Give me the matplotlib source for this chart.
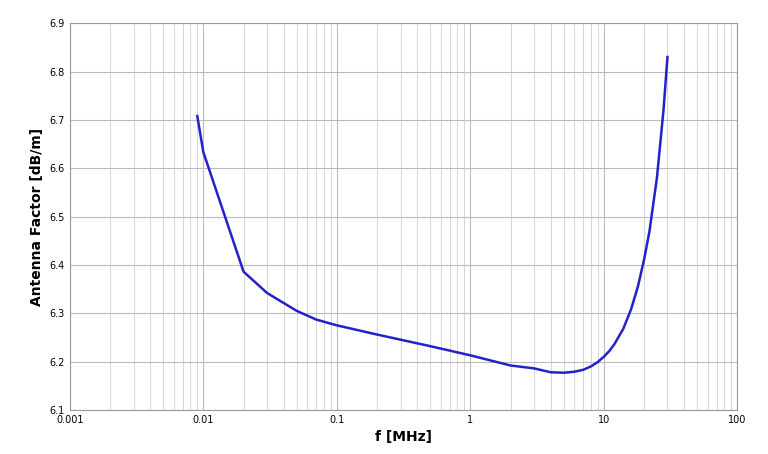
import numpy as np
from matplotlib import pyplot as plt

# antenna factor
freq_mhz = [0.009, 0.01, 0.02, 0.03, 0.05, 0.07, 0.1, 0.2, 0.5, 1, 2, 3, 4, 5, 6, 7, 8, 9, 10, 11, 12, 14, 16, 18, 20, 22, 25, 28, 30]
af_db = [6.708, 6.633, 6.386, 6.342, 6.305, 6.287, 6.275, 6.256, 6.232, 6.213, 6.192, 6.186, 6.178, 6.177, 6.179, 6.183, 6.190, 6.199, 6.210, 6.222, 6.236, 6.268, 6.308, 6.355, 6.410, 6.470, 6.580, 6.720, 6.830]

fig = plt.figure(figsize=(7.68, 4.54), dpi=100)
ax = fig.add_axes([0.091, 0.097, 0.869, 0.852])
ax.plot(freq_mhz, af_db, color='#2222cc', lw=1.8)
ax.set_xscale('log')
ax.set_xlim(0.001, 100)
ax.set_ylim(6.1, 6.9)
ax.set_xticks([0.001, 0.01, 0.1, 1, 10, 100])
ax.set_xticklabels(['0.001', '0.01', '0.1', '1', '10', '100'])
ax.set_yticks(np.arange(6.1, 6.91, 0.1))
ax.set_yticklabels(['%.1f' % v for v in np.arange(6.1, 6.91, 0.1)])
ax.tick_params(labelsize=7, length=0)
ax.tick_params(which='minor', length=0)
ax.grid(True, which='major', color='#bbbbbb', lw=0.8)
ax.grid(True, which='minor', axis='x', color='#d0d0d0', lw=0.6)
for s in ax.spines.values():
    s.set_color('#999999')
ax.set_xlabel('f [MHz]', fontsize=10, fontweight='bold')
ax.set_ylabel('Antenna Factor [dB/m]', fontsize=10, fontweight='bold')

plt.savefig('out.png')
